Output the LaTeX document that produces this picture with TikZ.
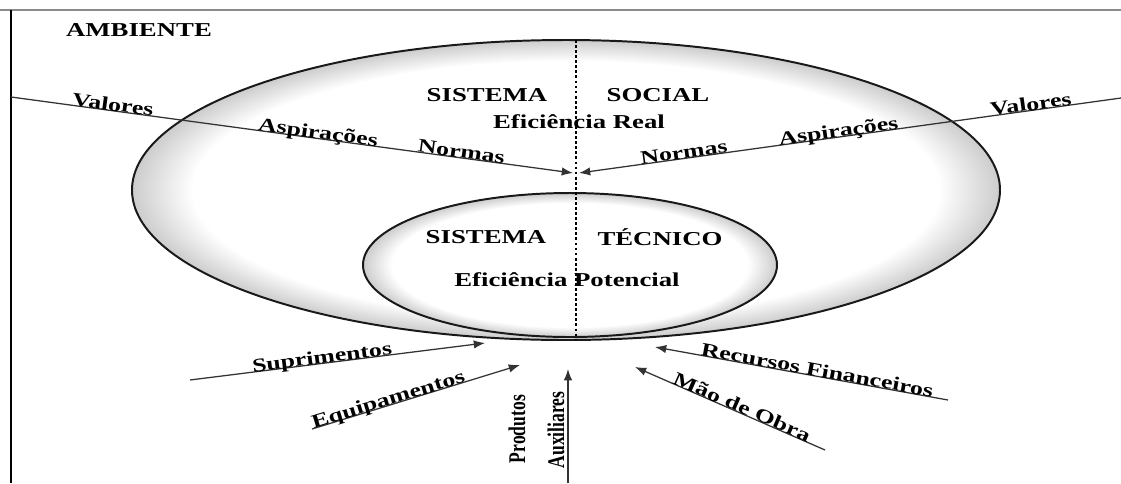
\documentclass[tikz,border=0pt]{standalone}
\usepackage{fontspec}
\setmainfont{Liberation Serif}
\usetikzlibrary{arrows.meta}
\pgfdeclareradialshading{borda}{\pgfpoint{0bp}{0bp}}{color(0bp)=(white); color(21.5bp)=(white); color(25bp)=(black!20); color(50bp)=(black!20)}
\newcommand{\largo}[1]{\scalebox{1.36}[1]{#1}}
\tikzset{
  titulo/.style={font=\fontsize{14}{16}\selectfont\bfseries, inner sep=1pt},
  rotulo/.style={font=\fontsize{13.5}{16}\selectfont\bfseries, sloped, anchor=base, inner sep=1pt},
  seta/.style={draw=black!80, line width=0.9pt, -{Latex[length=8pt,width=6pt]}},
  elipse/.style={draw=black!90, line width=1.4pt, shade, shading=borda},
}

\begin{document}
\begin{tikzpicture}[x=0.025cm, y=-0.025cm]
	\useasboundingbox (0,0) rectangle (1121,483);
	
	% moldura
	\draw[black!45, line width=1pt] (0,10) -- (1121,10);
	\draw[line width=1pt] (11,10) -- (11,483);
	\node[titulo] (amb) at (139,30) {\largo{AMBIENTE}};
	
	% sistemas
	\path[elipse] (566,190) ellipse [x radius=434, y radius=150];
	\path[elipse] (570,265) ellipse [x radius=207, y radius=72];
	\coordinate (dTop) at (576,40);
	\coordinate (dBot) at (576,340);
	\draw[line width=1.2pt, dash pattern=on 2pt off 1.6pt] (dTop) -- (dBot);
	
	\node[titulo] (socA) at (487,95) {\largo{SISTEMA}};
	\node[titulo] (socB) at (658,95) {\largo{SOCIAL}};
	\node[titulo] (socEf) at (579,122) {\largo{Eficiência Real}};
	\node[titulo] (tecA) at (486,237) {\largo{SISTEMA}};
	\node[titulo] (tecB) at (660,237) {\largo{TÉCNICO}};
	\node[titulo] (tecEf) at (567,280) {\largo{Eficiência Potencial}};
	
	% entradas sociais
	\coordinate (esqIn) at (11,97);
	\coordinate (esqTip) at (573,173);
	\coordinate (dirIn) at (1121,98);
	\coordinate (dirTip) at (579,173);
	\draw[seta] (esqIn) -- (esqTip)
		node[rotulo, pos=0.18] (valE) {\largo{Valores}}
		node[rotulo, pos=0.545] (aspE) {\largo{Aspirações}}
		node[rotulo, pos=0.8] (norE) {\largo{Normas}};
	\draw[seta] (dirIn) -- (dirTip)
		node[rotulo, pos=0.165] (valD) {\largo{Valores}}
		node[rotulo, pos=0.52] (aspD) {\largo{Aspirações}}
		node[rotulo, pos=0.805] (norD) {\largo{Normas}};
	
	% entradas tecnicas
	\coordinate (supIn) at (190,380);
	\coordinate (supTip) at (485,343);
	\coordinate (equIn) at (312,429);
	\coordinate (equTip) at (520,365);
	\coordinate (recIn) at (948,400);
	\coordinate (recTip) at (655,347);
	\coordinate (maoIn) at (825,450);
	\coordinate (maoTip) at (635,367);
	\coordinate (proIn) at (568,483);
	\coordinate (proTip) at (568,369);
	\draw[seta] (supIn) -- (supTip) node[rotulo, pos=0.45] (sup) {\largo{Suprimentos}};
	\draw[seta] (equIn) -- (equTip) node[rotulo, pos=0.375] (equ) {\largo{Equipamentos}};
	\draw[seta] (recIn) -- (recTip) node[rotulo, pos=0.45] (rec) {\largo{Recursos Financeiros}};
	\draw[seta] (maoIn) -- (maoTip) node[rotulo, pos=0.45] (mao) {\largo{Mão de Obra}};
	\draw[seta] (proIn) -- (proTip);
	\node[titulo, font=\fontsize{12.5}{14}\selectfont\bfseries, rotate=90] (prodA) at (517,429) {\scalebox{1}[1.36]{Produtos}};
	\node[titulo, font=\fontsize{12.5}{14}\selectfont\bfseries, rotate=90] (prodB) at (556,430) {\scalebox{1}[1.36]{Auxiliares}};
\end{tikzpicture}
\end{document}
